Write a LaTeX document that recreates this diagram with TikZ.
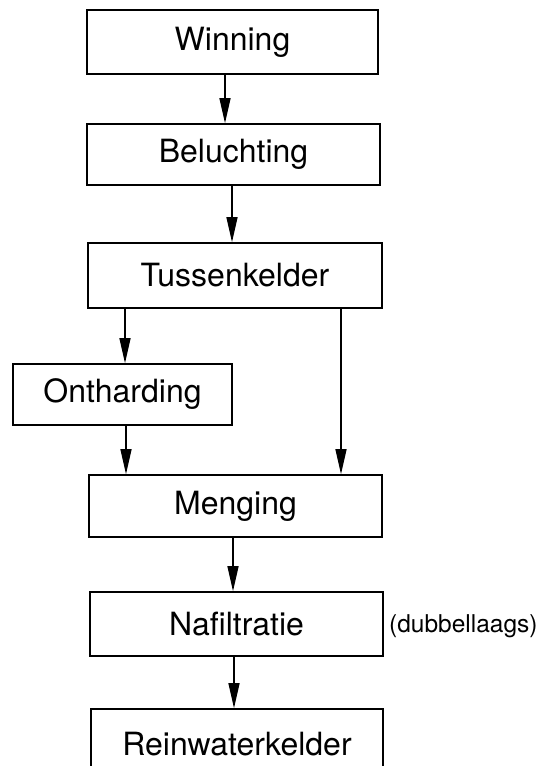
\documentclass[tikz,border=0pt]{standalone}
\usepackage{fontspec}
\setmainfont{TeX Gyre Heros}
\usetikzlibrary{arrows.meta}
\begin{document}
\begin{tikzpicture}[x=1pt,y=-1pt,
  stage/.style={draw, line width=1.6pt, inner sep=0pt,
    font=\fontsize{32}{32}\selectfont},
  flow/.style={line width=1.3pt,
    -{Triangle[length=25pt,width=11pt]}},
  note/.style={anchor=west, inner sep=0pt, font=\fontsize{24.5}{24.5}\selectfont}]
\useasboundingbox (0,0) rectangle (540,766);
\clip (0,0) rectangle (540,766);

% process stages
\node[stage, minimum width=291pt, minimum height=64pt] (win) at (232.5,42) {Winning};
\node[stage, minimum width=293pt, minimum height=61pt] (bel) at (233.5,154.5) {Beluchting};
\node[stage, minimum width=294pt, minimum height=65pt] (tus) at (235,275.5) {Tussenkelder};
\node[stage, minimum width=219pt, minimum height=61pt] (ont) at (122.5,394.5) {Ontharding};
\node[stage, minimum width=293pt, minimum height=62pt] (men) at (235.5,506) {Menging};
\node[stage, minimum width=293pt, minimum height=64pt] (naf) at (236.5,624) {Nafiltratie};
\node[stage, minimum width=292pt, minimum height=71pt] (rein) at (237,744.5) {Reinwaterkelder};

\node[note] (dub) at (389,626) {(dubbellaags)};

% flow connections
\draw[flow] (win.south -| 225,0) -- (bel.north -| 225,0);
\draw[flow] (bel.south -| 232,0) -- (tus.north -| 232,0);
\draw[flow] (tus.south -| 125,0) -- (ont.north -| 125,0);
\draw[flow] (tus.south -| 341,0) -- (men.north -| 341,0);
\draw[flow] (ont.south -| 126,0) -- (men.north -| 126,0);
\draw[flow] (men.south -| 233,0) -- (naf.north -| 233,0);
\draw[flow] (naf.south -| 234,0) -- (rein.north -| 234,0);
\end{tikzpicture}
\end{document}
